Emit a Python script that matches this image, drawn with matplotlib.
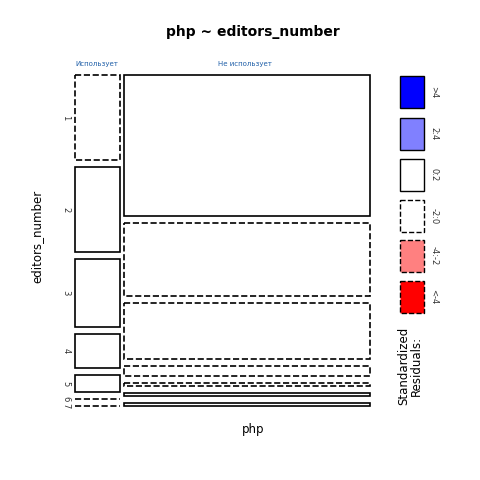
import matplotlib
matplotlib.use("Agg")
import matplotlib.pyplot as plt
from matplotlib.patches import Rectangle

rows = ["1", "2", "3", "4", "5", "6", "7"]
cols = ["Использует", "Не использует"]
counts_use = [25, 25, 20, 10, 5, 0, 0]
counts_not = [227, 118, 89, 16, 5, 5, 5]
sign_use = [-1, 1, 1, 1, 1, -1, -1]
sign_not = [1, -1, -1, -1, -1, 1, 1]
leg_labels = [">4", "2:4", "0:2", "-2:0", "-4:-2", "<-4"]
leg_colors = ["#0000FF", "#8080FF", "white", "white", "#FF8080", "#FF0000"]
leg_dash = [False, False, False, True, True, True]

fig = plt.figure(figsize=(4.8, 4.8), dpi=100)
ax = fig.add_axes([0, 0, 1, 1])
ax.set_xlim(0, 480); ax.set_ylim(480, 0); ax.axis("off")

top, bottom, gap = 75, 406, 7
colx = [(75, 120), (124, 370)]
for ci, (counts, signs) in enumerate([(counts_use, sign_use), (counts_not, sign_not)]):
    x0, x1 = colx[ci]
    usable = (bottom - top) - gap * (len(counts) - 1)
    tot = sum(counts)
    y = top
    for ri, c in enumerate(counts):
        h = c / tot * usable
        ls = "--" if signs[ri] < 0 else "-"
        if h < 0.5:
            ax.plot([x0, x1], [y, y], color="black", ls=ls, lw=1.2)
        else:
            ax.add_patch(Rectangle((x0, y), x1 - x0, h, fill=False, ec="black", ls=ls, lw=1.2))
        if ci == 0:
            ax.text(66, y + h / 2, rows[ri], rotation=-90, ha="center", va="center", fontsize=6, color="#333333")
        y += h + gap

ax.text(97, 64, cols[0], fontsize=5, color="#1f5fa8", ha="center", va="center")
ax.text(245, 64, cols[1], fontsize=5, color="#1f5fa8", ha="center", va="center")

ly = [76, 118, 159, 200, 240, 281]
for i in range(6):
    ax.add_patch(Rectangle((400, ly[i]), 24, 32, fc=leg_colors[i], ec="black",
                           ls="--" if leg_dash[i] else "-", lw=1))
    ax.text(434, ly[i] + 16, leg_labels[i], rotation=-90, ha="center", va="center", fontsize=6, color="#333333")
ax.text(410, 405, "Standardized\nResiduals:", rotation=90, ha="center", va="bottom", fontsize=8.5, linespacing=1.0)

ax.text(253, 32, "php ~ editors_number", fontsize=10, fontweight="bold", ha="center", va="center")
ax.text(253, 429, "php", fontsize=8.5, ha="center", va="center")
ax.text(37, 236, "editors_number", fontsize=8.5, rotation=90, ha="center", va="center")

fig.savefig("out.png", dpi=100, facecolor="white")
